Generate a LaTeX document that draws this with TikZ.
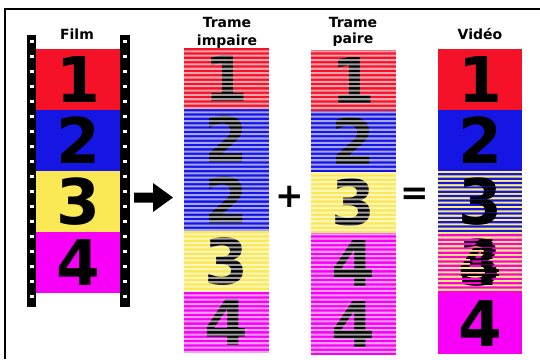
\documentclass[tikz,border=0pt]{standalone}
\usepackage{fontspec}
\setmainfont{DejaVu Sans}
\definecolor{fred}{RGB}{245,18,40}
\definecolor{fblue}{RGB}{22,22,228}
\definecolor{fyel}{RGB}{250,232,85}
\definecolor{fmag}{RGB}{248,0,248}
\tikzset{
  digit/.style={font=\fontsize{63}{63}\selectfont\bfseries, text=black, inner sep=0pt},
  lab/.style={font=\fontsize{14}{14}\selectfont\bfseries, text=black, inner sep=0pt, anchor=base},
  sign/.style={font=\fontsize{34}{34}\selectfont\bfseries, text=black, inner sep=0pt},
  hole/.style={fill=white},
}
% name, x-left, y-top, width, colour, digit
\newcommand\frm[6]{%
  \fill[#5] (#2,#3) rectangle ++(#4,61);
  \node[digit] (#1) at (#2+#4/2,#3+30.5) {#6};
}
% x-left, y-top, width, count, period
\newcommand\gapstripes[5]{%
  \fill[white,opacity=0.62] \foreach \i in {1,...,#4}{ (#1,#2+\i*#5-2.05) rectangle ++(#3,2.05) };
}
\begin{document}
\begin{tikzpicture}[x=1pt,y=-1pt]
\useasboundingbox (0,0) rectangle (540,359);
\fill[white] (0,0) rectangle (540,359);
% outer frame (top and left)
\draw[line width=2pt] (5,359) -- (5,9) -- (540,9);

% ---------- Film ----------
\node[lab] (film) at (77,39) {Film};
\fill[black] (27,35) rectangle (36,307);
\fill[black] (120,35) rectangle (130,307);
\foreach \k in {0,...,17}{
  \fill[hole] (29.5,40+\k*15) rectangle ++(4,3);
  \fill[hole] (123,40+\k*15) rectangle ++(4,3);
}
\frm{f1}{36}{49}{84}{fred}{1}
\frm{f2}{36}{110}{84}{fblue}{2}
\frm{f3}{36}{171}{84}{fyel}{3}
\frm{f4}{36}{232}{84}{fmag}{4}

% arrow
\fill[black] (134,192.5) -- (153,192.5) -- (153,183) -- (173,197.5) -- (153,212) -- (153,202.5) -- (134,202.5) -- cycle;

% ---------- Trame impaire ----------
\node[lab] (ti1) at (227,27) {Trame};
\node[lab] (ti2) at (227,45) {impaire};
\frm{i1}{184}{48}{85}{fred}{1}
\frm{i2}{184}{109}{85}{fblue}{2}
\frm{i3}{184}{170}{85}{fblue}{2}
\frm{i4}{184}{231}{85}{fyel}{3}
\frm{i5}{184}{292}{85}{fmag}{4}
\gapstripes{184}{48}{85}{70}{4.357}

\node[sign] (plus) at (290,197) {+};

% ---------- Trame paire ----------
\node[lab] (tp1) at (353,27) {Trame};
\node[lab] (tp2) at (353,43) {paire};
\frm{p1}{311}{50}{85}{fred}{1}
\frm{p2}{311}{111}{85}{fblue}{2}
\frm{p3}{311}{172}{85}{fyel}{3}
\frm{p4}{311}{233}{85}{fmag}{4}
\frm{p5}{311}{294}{85}{fmag}{4}
\gapstripes{311}{48}{85}{70}{4.357}

\node[sign] (eq) at (415,196) {=};

% ---------- Video ----------
\node[lab] (vid) at (480,39) {Vidéo};
\frm{v1}{438}{49}{84}{fred}{1}
\frm{v2}{438}{110}{84}{fblue}{2}
\frm{v3a}{438}{171}{84}{fyel!80!white}{3}
\begin{scope}
  \clip \foreach \i in {0,...,13}{ (438,171+2.2+\i*4.357) rectangle ++(84,2.2) };
  \frm{v3b}{438}{171}{84}{fblue}{3}
\end{scope}
\frm{v4a}{438}{232}{84}{fyel!80!white}{3}
\begin{scope}
  \clip \foreach \i in {0,...,13}{ (438,232+2.2+\i*4.357) rectangle ++(84,2.2) };
  \frm{v4b}{438}{232}{84}{fmag!85!fred}{4}
\end{scope}
\frm{v5}{438}{293}{84}{fmag}{4}
\end{tikzpicture}
\end{document}
